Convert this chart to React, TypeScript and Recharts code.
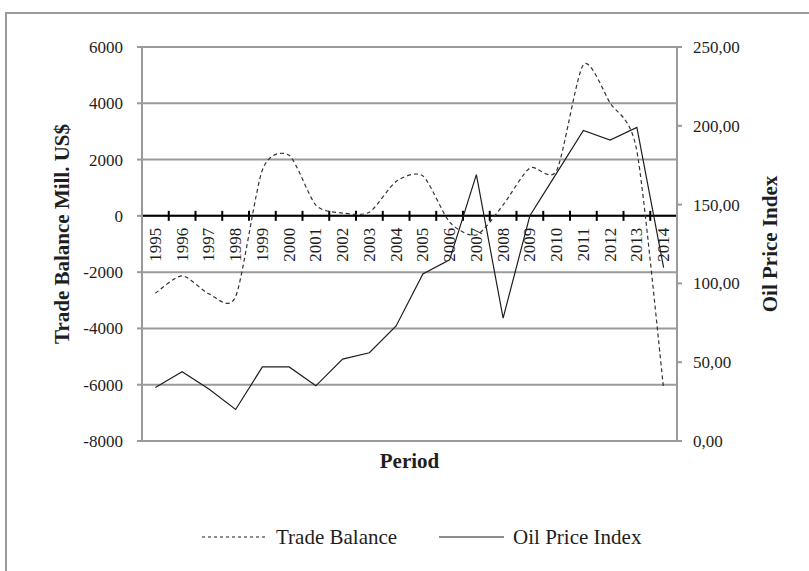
import React from 'react';
import {
  LineChart,
  Line,
  XAxis,
  YAxis,
  CartesianGrid,
  ReferenceLine,
  Legend,
} from 'recharts';

const years = ['1995', '1996', '1997', '1998', '1999', '2000', '2001', '2002', '2003', '2004', '2005', '2006', '2007', '2008', '2009', '2010', '2011', '2012', '2013', '2014'];
const tradeBalance = [-2750, -2130, -2770, -2870, 1630, 2150, 380, 100, 130, 1220, 1420, -220, -680, 390, 1700, 1610, 5370, 4010, 2300, -6150];
const oilPriceIndex = [34, 44, 33, 20, 47, 47, 35, 52, 56, 73, 106, 115, 169, 78, 143, 170, 197, 191, 199, 110];
const leftTicks = [-8000, -6000, -4000, -2000, 0, 2000, 4000, 6000];
const rightTicks = [0, 50, 100, 150, 200, 250];
const seriesNames = ['Trade Balance', 'Oil Price Index'];

const data = years.map((year, i) => ({
  year,
  trade: tradeBalance[i],
  oil: oilPriceIndex[i],
}));

const FONT = '"Liberation Serif", "Times New Roman", serif';
const GRID = '#9a9a9a';
const INK = '#1e1e1e';

// Excel-like smoothed line (cardinal spline as cubic Bezier, mild tension)
const SMOOTH = 1 / 8;
const excelSmooth = (context: any) => {
  let pts: number[][] = [];
  return {
    areaStart() {},
    areaEnd() {},
    lineStart() {
      pts = [];
    },
    point(x: number, y: number) {
      pts.push([+x, +y]);
    },
    lineEnd() {
      if (!pts.length) return;
      context.moveTo(pts[0][0], pts[0][1]);
      for (let i = 0; i < pts.length - 1; i++) {
        const p0 = pts[i - 1] || pts[i];
        const p1 = pts[i];
        const p2 = pts[i + 1];
        const p3 = pts[i + 2] || pts[i + 1];
        context.bezierCurveTo(
          p1[0] + (p2[0] - p0[0]) * SMOOTH,
          p1[1] + (p2[1] - p0[1]) * SMOOTH,
          p2[0] - (p3[0] - p1[0]) * SMOOTH,
          p2[1] - (p3[1] - p1[1]) * SMOOTH,
          p2[0],
          p2[1]
        );
      }
    },
  };
};

const ZeroAxis = (props: any) => {
  const { x1, y1, x2 } = props;
  const n = years.length;
  const step = (x2 - x1) / n;
  return (
    <g>
      <line x1={x1} y1={y1} x2={x2} y2={y1} stroke="#000" strokeWidth={2} />
      {Array.from({ length: n + 1 }).map((_, i) => (
        <line key={'t' + i} x1={x1 + i * step} x2={x1 + i * step} y1={y1 - 5} y2={y1 + 5} stroke="#000" strokeWidth={2} />
      ))}
      {years.map((y, i) => {
        const cx = x1 + (i + 0.5) * step;
        const cy = y1 + 12;
        return (
          <text
            key={'l' + i}
            x={cx}
            y={cy}
            transform={`rotate(-90 ${cx} ${cy})`}
            textAnchor="end"
            dominantBaseline="central"
            fontFamily={FONT}
            fontSize={17}
            fill={INK}
          >
            {y}
          </text>
        );
      })}
    </g>
  );
};

const renderLegend = () => (
  <div style={{ display: 'flex', alignItems: 'center', fontFamily: FONT, fontSize: 21, color: INK, lineHeight: '24px', whiteSpace: 'nowrap' }}>
    {seriesNames.map((name, i) => (
      <div key={name} style={{ display: 'flex', alignItems: 'center', marginRight: i === 0 ? 42 : 0 }}>
        <svg width={65} height={10} style={{ marginRight: 9 }}>
          <line x1={0} y1={5} x2={65} y2={5} stroke={INK} strokeWidth={1.2} strokeDasharray={i === 0 ? '3 3' : undefined} />
        </svg>
        <span>{name}</span>
      </div>
    ))}
  </div>
);

const fmtRight = (v: number) => v.toFixed(2).replace('.', ',');

export default function App() {
  return (
    <div style={{ position: 'absolute', left: 0, top: 0, width: 809, height: 571, overflow: 'hidden', background: '#fff' }}>
      <div style={{ position: 'absolute', left: 5, top: 12, width: 900, height: 700, borderTop: `2px solid ${GRID}`, borderLeft: `2px solid ${GRID}` }} />
      <div style={{ position: 'absolute', left: 0, top: 0 }}>
        <LineChart width={809} height={571} data={data} margin={{ top: 47, right: 0, bottom: 90, left: 0 }}>
          <CartesianGrid yAxisId="left" vertical={false} horizontal stroke={GRID} strokeWidth={2} />
          <XAxis
            dataKey="year"
            scale="band"
            axisLine={false}
            tickLine={false}
            tick={false}
            height={40}
            label={{ value: 'Period', position: 'insideTop', offset: 12, fontFamily: FONT, fontSize: 21, fontWeight: 'bold', fill: INK }}
          />
          <YAxis
            yAxisId="left"
            width={142}
            domain={[-8000, 6000]}
            ticks={leftTicks}
            interval={0}
            allowDataOverflow
            axisLine={{ stroke: GRID, strokeWidth: 2 }}
            tickLine={{ stroke: GRID, strokeWidth: 2 }}
            tickSize={5}
            tickMargin={14}
            tick={{ fontFamily: FONT, fontSize: 17, fill: INK }}
            label={{ value: 'Trade Balance Mill. US$', angle: -90, position: 'center', dx: -9, dy: -10, fontFamily: FONT, fontSize: 21, fontWeight: 'bold', fill: INK }}
          />
          <YAxis
            yAxisId="right"
            orientation="right"
            width={132}
            domain={[0, 250]}
            ticks={rightTicks}
            interval={0}
            allowDataOverflow
            axisLine={{ stroke: GRID, strokeWidth: 2 }}
            tickLine={{ stroke: GRID, strokeWidth: 2 }}
            tickSize={5}
            tickMargin={11}
            tickFormatter={fmtRight}
            tick={{ fontFamily: FONT, fontSize: 17, fill: INK }}
            label={{ value: 'Oil Price Index', angle: -90, position: 'center', dx: 27, dy: 0, fontFamily: FONT, fontSize: 21, fontWeight: 'bold', fill: INK }}
          />
          <ReferenceLine yAxisId="left" y={0} shape={ZeroAxis} />
          <Line
            yAxisId="left"
            dataKey="trade"
            name={seriesNames[0]}
            type={excelSmooth as any}
            stroke="#333"
            strokeWidth={1.2}
            strokeDasharray="4 3"
            dot={false}
            activeDot={false}
            isAnimationActive={false}
          />
          <Line
            yAxisId="right"
            dataKey="oil"
            name={seriesNames[1]}
            type="linear"
            stroke={INK}
            strokeWidth={1.2}
            dot={false}
            activeDot={false}
            isAnimationActive={false}
          />
          <Legend layout="horizontal" verticalAlign="middle" align="center" content={renderLegend} wrapperStyle={{ left: 202, top: 525, width: 'auto', height: 'auto' }} />
        </LineChart>
      </div>
    </div>
  );
}
